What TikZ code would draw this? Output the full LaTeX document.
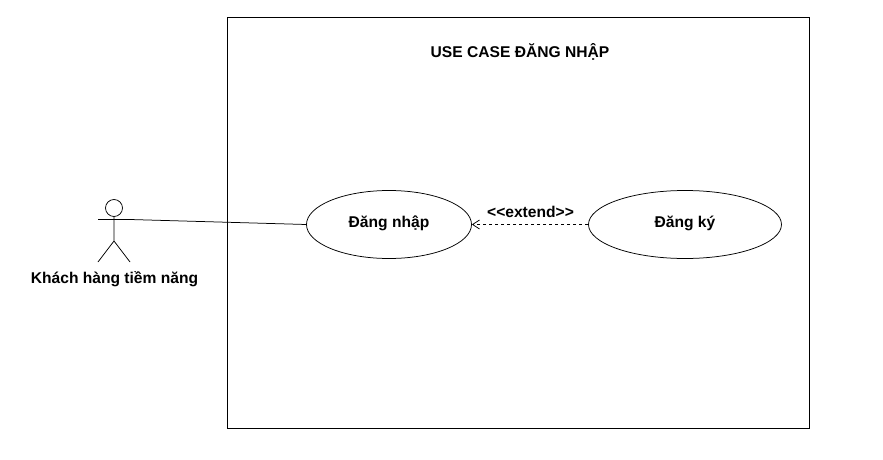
\documentclass[tikz,border=0pt]{standalone}
\usepackage{fontspec}
\setmainfont{Liberation Sans}
\usetikzlibrary{arrows.meta,shapes.geometric}
\tikzset{
  px/.style={x=1pt,y=-1pt},
  line/.style={draw=black,line width=0.75pt},
  usecase/.style={ellipse,line,fill=white,inner sep=0pt},
  lbl/.style={font=\bfseries\fontsize{15.6}{18}\selectfont,text=black,inner sep=0pt}
}
\begin{document}
\begin{tikzpicture}[px]
\useasboundingbox (0,0) rectangle (883,460);
\fill[white] (0,0) rectangle (883,460);
\node[line,minimum width=582pt,minimum height=411pt,inner sep=0pt] (sys) at (518,223) {};
\node[lbl] (title) at (520,52) {USE CASE ĐĂNG NHẬP};
\node[usecase,minimum width=165pt,minimum height=68pt] (login) at (389,224.5) {};
\node[lbl] at (389,223.5) {Đăng nhập};
\node[usecase,minimum width=193pt,minimum height=68pt] (reg) at (685,224.5) {};
\node[lbl] at (685,223.5) {Đăng ký};
\node[line,circle,minimum size=17pt,inner sep=0pt] (head) at (114,208) {};
\coordinate (hip) at (114,241);
\coordinate (armL) at (98,219.5);
\coordinate (armR) at (130,219.5);
\coordinate (footL) at (98,262);
\coordinate (footR) at (130,262);
\draw[line] (head.south) -- (hip) (hip) -- (footL) (hip) -- (footR) (armL) -- (armR);
\node[lbl] (actor) at (114.5,279) {Khách hàng tiềm năng};
\draw[line] (armR) -- (login.west);
\draw[line,dashed,dash pattern=on 3pt off 3pt,-{Straight Barb[length=7pt,width=9pt]}] (reg.west) -- (login.east);
\node[lbl] (ext) at (530.5,212) {<{}<extend>{}>};
\end{tikzpicture}
\end{document}
